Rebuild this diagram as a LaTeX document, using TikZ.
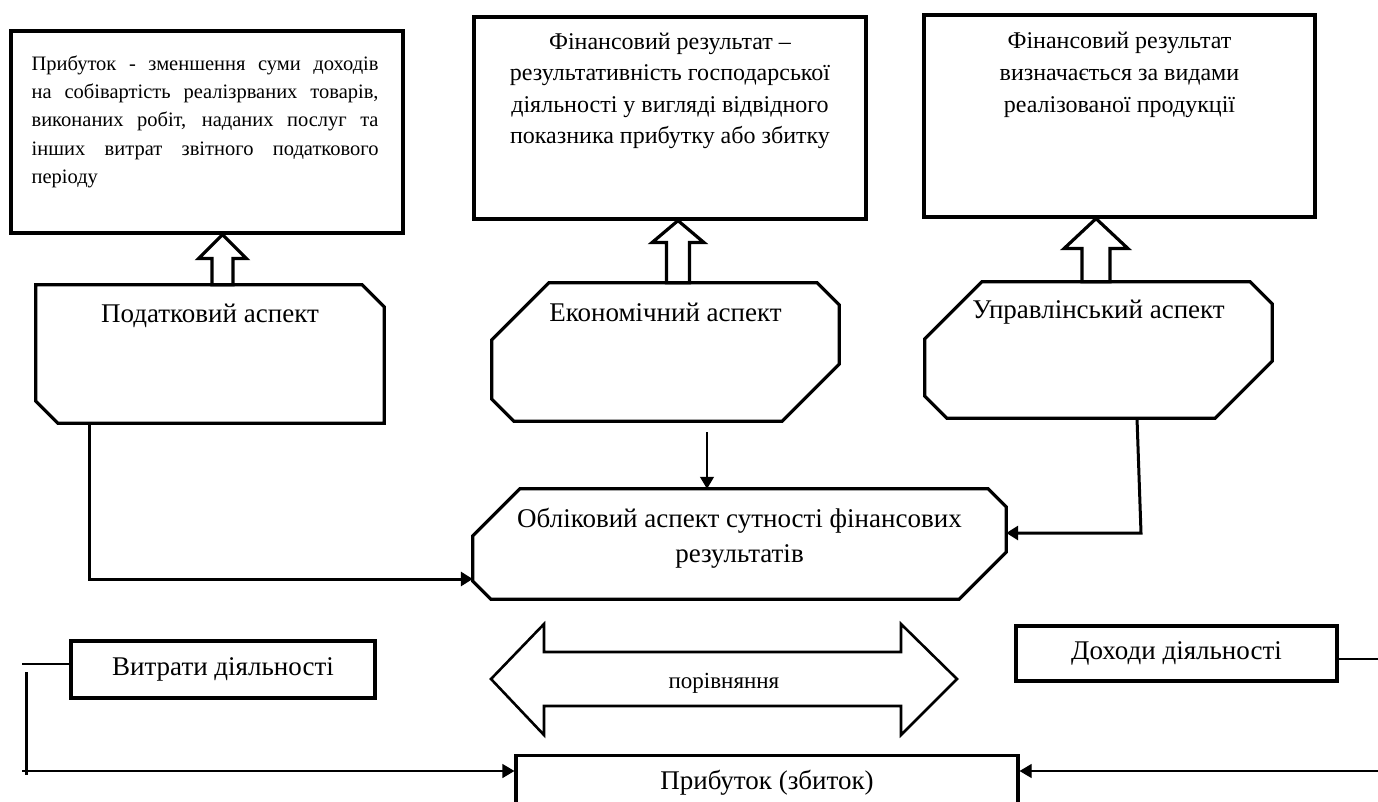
\documentclass[tikz,border=0pt]{standalone}
\usepackage{fontspec}
\setmainfont{Liberation Serif}
\usetikzlibrary{positioning,calc,arrows.meta}

\tikzset{
	bord/.style={draw,line width=3.2pt},
	blk/.style={bord,rectangle,inner sep=0pt},
	cut/.style={rectangle,inner sep=0pt},
	hollow/.style={line width=3.2pt,fill=white},
	txt/.style={inner sep=0pt,align=center,font=\fontsize{27}{35}\selectfont},
	deftxt/.style={txt,font=\fontsize{24}{31.5}\selectfont},
	thickc/.style={line width=3pt},
	thinc/.style={line width=1.2pt},
	tip/.style={-{Triangle[length=12pt,width=14pt]}}
}

\begin{document}
\begin{tikzpicture}[x=1pt,y=-1pt]
		\useasboundingbox (0,0) rectangle (1378,802);
		% definitions
		\node[blk,minimum width=392pt,minimum height=202pt] (def1) at (207,132) {};
		\node[blk,minimum width=392pt,minimum height=202pt] (def2) at (670,118) {};
		\node[blk,minimum width=391pt,minimum height=202pt] (def3) at (1119.5,116) {};
		\node[txt,anchor=north west,text width=347pt,align=justify,
		font=\fontsize{20.5}{28.3}\selectfont,
		below right=26pt and 22pt of def1.north west] (def1t)
		{Прибуток - зменшення суми доходів\linebreak на собівартість реалізрваних товарів,\linebreak
			виконаних робіт, наданих послуг та\linebreak інших витрат звітного податкового\linebreak періоду};
		\node[deftxt,below=17pt of def2.north] (def2t) {Фінансовий результат –\\ результативність господарської\\
			діяльності у вигляді відвідного\\ показника прибутку або збитку};
		\node[deftxt,below=18pt of def3.north,font=\fontsize{24}{32}\selectfont] (def3t)
		{Фінансовий результат\\ визначається за видами\\ реалізованої продукції};
		% aspects
		\node[cut,minimum width=348pt,minimum height=138pt] (pod) at (210,354) {};
		\node[cut,minimum width=347pt,minimum height=138pt] (eko) at (665.5,352) {};
		\node[cut,minimum width=347pt,minimum height=136pt] (upr) at (1098.5,350) {};
		\node[cut,minimum width=533pt,minimum height=110pt] (obl) at (739.5,544) {};
		\foreach \n/\b/\s in {pod/0/22,eko/57/22,upr/57/22,obl/47/18}
		\draw[bord] ($(\n.north west)+(\b,0)$) -- ($(\n.north east)+(-\s,0)$) -- ($(\n.north east)+(0,\s)$)
		-- ($(\n.south east)+(0,-\b)$) -- ($(\n.south east)+(-\b,0)$) -- ($(\n.south west)+(\s,0)$)
		-- ($(\n.south west)+(0,-\s)$) -- ($(\n.north west)+(0,\b)$) -- cycle;
		\node[txt,below=19pt of pod.north] (podt) {Податковий аспект};
		\node[txt,below=20pt of eko.north] (ekot) {Економічний аспект};
		\node[txt,below=18pt of upr.north] (uprt) {Управлінський аспект};
		\node[txt,below=19pt of obl.north] (oblt) {Обліковий аспект сутності фінансових\\ результатів};
		% hollow arrows
		\foreach \ax/\hl/\hw/\sw/\lo/\hi in {222.5/24/24/10.5/pod/def1,678/22/26/11.5/eko/def2,1096/30/32/14/upr/def3}
		\draw[hollow] (\hi.south -| \ax,0) -- ++(\hw,\hl) -- ++(\sw-\hw,0) -- (\lo.north -| \ax+\sw,0)
		-- (\lo.north -| \ax-\sw,0) -- ($(\hi.south -| \ax-\sw,0)+(0,\hl)$) -- ++(\sw-\hw,0) -- cycle;
		% connectors
		\draw[thickc,tip] (pod.south -| 89,0) |- (obl.west |- 0,579);
		\draw[thinc,tip] ($(eko.south -| 707,0)+(0,11)$) -- (obl.north -| 707,0);
		\draw[thickc,tip] (upr.south -| 1137,0) -- (1141,533) -- (obl.east |- 0,533);
		% bottom part
		\node[blk,txt,minimum width=304pt,minimum height=57pt] (vyt) at (223,669.5) {Витрати діяльності};
		\node[blk,txt,minimum width=321pt,minimum height=55pt] (doh) at (1176.5,653.5) {Доходи діяльності};
		\node[blk,minimum width=502pt,minimum height=80pt,anchor=north] (prib) at (767,754) {};
		\node[txt,below=16pt of prib.north] (pribt) {Прибуток (збиток)};
		\draw[line width=2.6pt] (491,679) -- (544,624) -- (544,652) -- (901,652) -- (901,624) -- (957,679)
		-- (901,735) -- (901,706) -- (544,706) -- (544,735) -- cycle;
		\node[txt,font=\fontsize{23}{26}\selectfont] (por) at (724,683) {порівняння};
		\coordinate (lt) at (22,664);
		\coordinate (lv) at (26,672);
		\coordinate (lb) at (22,771);
		\coordinate (rt) at (1378,659);
		\coordinate (rb) at (1378,771);
		\draw[thinc] (lt) -- (lt -| vyt.west);
		\draw[thickc] (lv) -- ++(0,103);
		\draw[thinc,tip] (lb) -- (lb -| prib.west);
		\draw[thinc] (rt -| doh.east) -- (rt);
		\draw[thinc,tip] (rb) -- (rb -| prib.east);
	\end{tikzpicture}
\end{document}
